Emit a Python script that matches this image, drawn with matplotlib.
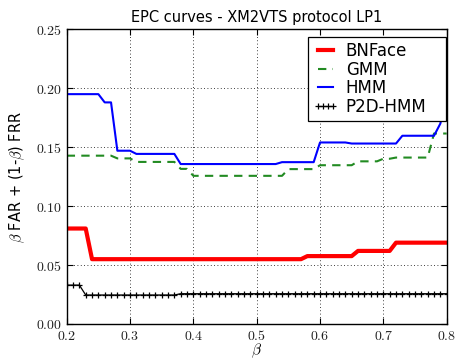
import numpy as np
import matplotlib
matplotlib.use("Agg")
import matplotlib.pyplot as plt
from matplotlib.ticker import FuncFormatter

plt.rcParams["mathtext.fontset"] = "cm"
plt.rcParams["font.family"] = ["DejaVu Sans"]

# beta sweep, step 0.01
beta = np.round(np.arange(0.20, 0.8001, 0.01), 2)

def steps(levels):
    """Build a per-beta series from (start_beta, value) breakpoints."""
    out = np.empty_like(beta)
    for b0, v in levels:
        out[beta >= b0 - 1e-9] = v
    return out

bnface_levels = [(0.20, 0.081), (0.24, 0.055), (0.58, 0.0576), (0.66, 0.062), (0.72, 0.069)]
gmm_levels = [(0.20, 0.1428), (0.28, 0.1405), (0.31, 0.1375), (0.38, 0.1316), (0.40, 0.1257),
              (0.55, 0.1314), (0.60, 0.1347), (0.66, 0.1380), (0.70, 0.1402), (0.72, 0.1412),
              (0.78, 0.1616)]
hmm_levels = [(0.20, 0.195), (0.26, 0.188), (0.28, 0.147), (0.31, 0.1443), (0.38, 0.1357),
              (0.54, 0.1373), (0.60, 0.154), (0.65, 0.1531), (0.73, 0.1597), (0.79, 0.170),
              (0.80, 0.194)]
p2d_levels = [(0.20, 0.033), (0.23, 0.0246), (0.38, 0.0257)]

bnface = steps(bnface_levels)
gmm = steps(gmm_levels)
hmm = steps(hmm_levels)
p2d = steps(p2d_levels)

W, H = 455, 361
fig = plt.figure(figsize=(W / 100, H / 100), dpi=100)
ax = fig.add_axes([0.1466, 0.1025, 0.8351, 0.8163])

ax.plot(beta, bnface, color="#ff0000", lw=3.0, label="BNFace")
ax.plot(beta, gmm, color="#228b22", lw=1.5, ls=(0, (4, 3)), label="GMM")
ax.plot(beta, hmm, color="#0000ff", lw=1.5, label="HMM")
ax.plot(beta, p2d, color="black", lw=0.9, marker="+", ms=5, mew=0.9, label="P2D-HMM")

ax.set_xlim(0.2, 0.8)
ax.set_ylim(0.0, 0.25)
ax.set_xticks(np.arange(0.2, 0.81, 0.1))
ax.set_yticks(np.arange(0.0, 0.251, 0.05))
ax.xaxis.set_major_formatter(FuncFormatter(lambda v, p: r"$%.1f$" % v))
ax.yaxis.set_major_formatter(FuncFormatter(lambda v, p: r"$%.2f$" % v))
ax.tick_params(direction="in", length=4, width=0.8, labelsize=10, top=True, right=True,
               colors="black", labelcolor="#222222")
ax.grid(True, color="black", ls=(0, (1, 3)), lw=0.6)
for s in ax.spines.values():
    s.set_linewidth(1.0)

ax.set_title("EPC curves - XM2VTS protocol LP1", fontsize=10.5, pad=5)
ax.set_xlabel(r"$\beta$", fontsize=11, labelpad=-1)
ax.set_ylabel(r"$\beta$ FAR + (1-$\beta$) FRR", fontsize=10.5, labelpad=6)

# legend box spanning a fixed width in the upper-right corner
lx0, lx1, ly0 = 307.5, 446.0, 37.0
leg = ax.legend(loc="upper left", mode="expand",
                bbox_to_anchor=(lx0 / W, 1 - ly0 / H, (lx1 - lx0) / W, 0.0),
                bbox_transform=fig.transFigure, borderaxespad=0,
                fontsize=12, fancybox=False, framealpha=1, numpoints=4,
                edgecolor="black", handlelength=1.5, handletextpad=0.5,
                labelspacing=0.04, borderpad=0.3)
leg.get_frame().set_linewidth(0.9)

fig.savefig("out.png", dpi=100)
